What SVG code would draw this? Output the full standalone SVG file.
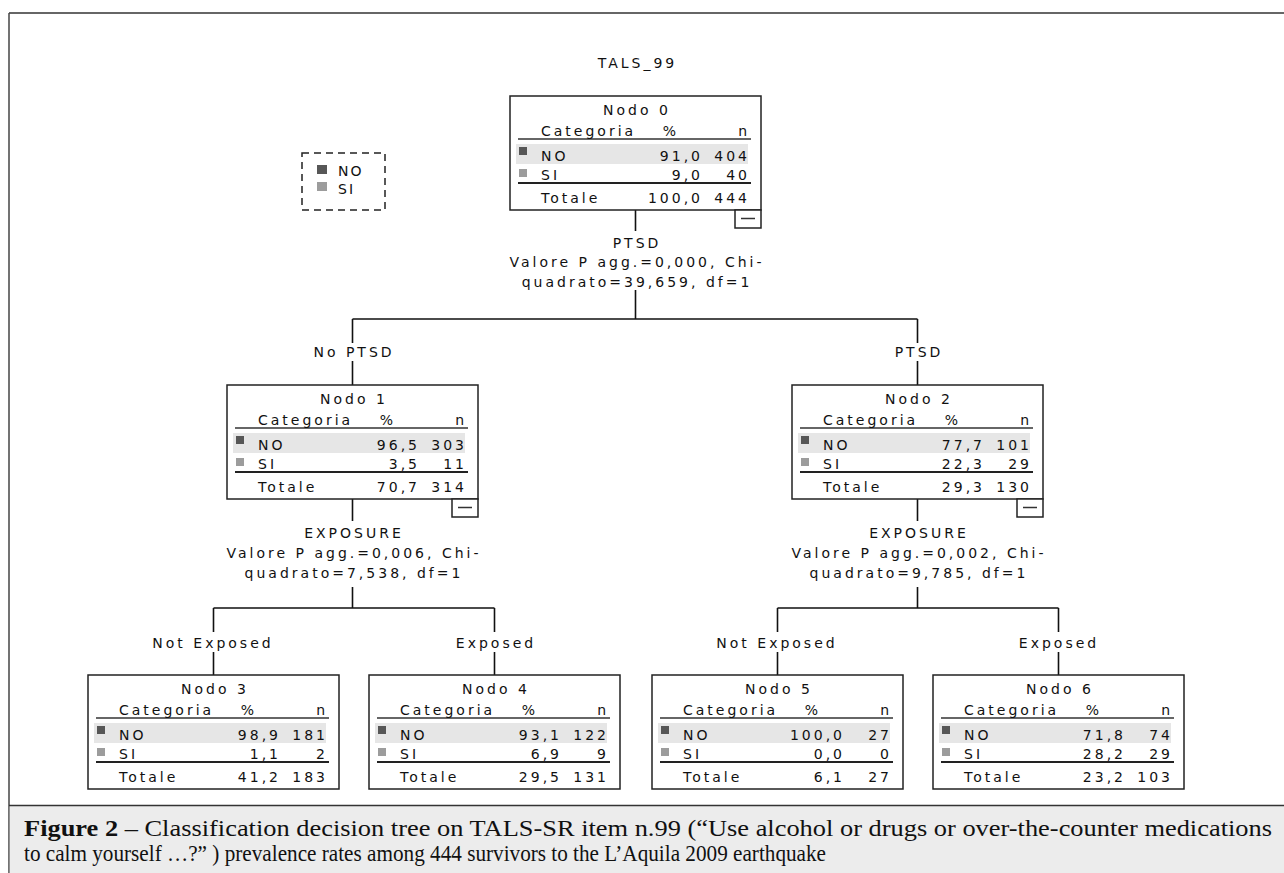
<svg xmlns="http://www.w3.org/2000/svg" width="1284" height="873" viewBox="0 0 1284 873">
<defs>
<style>
.t{font-family:"DejaVu Sans",sans-serif;font-size:14px;letter-spacing:3px;fill:#111}
.m{text-anchor:middle}
.e{text-anchor:end}
.box{fill:#fff;stroke:#222;stroke-width:1.5}
.hl{fill:#e6e6e6}
.sep{stroke:#333;stroke-width:1.5}
.sepb{stroke:#222;stroke-width:2}
.dk{fill:#575757}
.lt{fill:#9c9c9c}
.con{stroke:#111;stroke-width:1.6;fill:none}
.cap{font-family:"Liberation Serif","Times New Roman",serif;font-size:24px;fill:#111}
</style>
</defs>
<rect x="0" y="0" width="1284" height="873" fill="#fff"/>
<!-- frame -->
<line x1="9" y1="13" x2="1284" y2="13" stroke="#666" stroke-width="2"/>
<line x1="9" y1="13" x2="9" y2="873" stroke="#444" stroke-width="1.5"/>
<rect x="9.75" y="806" width="1275" height="67" fill="#ececec"/>
<line x1="9" y1="805.5" x2="1284" y2="805.5" stroke="#333" stroke-width="1.5"/>

<text class="t m" x="637.5" y="68">TALS_99</text>

<!-- legend -->
<g id="legend">
<rect x="302" y="153" width="83" height="57" fill="none" stroke="#222" stroke-width="1.5" stroke-dasharray="7,5"/>
<rect x="317" y="165" width="10" height="9" class="dk"/>
<rect x="317" y="182" width="10" height="9" class="lt"/>
<text class="t" x="338" y="176" style="letter-spacing:2px">NO</text>
<text class="t" x="338" y="194" style="letter-spacing:2px">SI</text>
</g>

<!-- connectors -->
<g id="connectors" class="con">
<path d="M635.5 210V231M635.5 290V319M352.5 319H917.5M352.5 319V343M352.5 361V385M917.5 319V343M917.5 361V385"/>
<path d="M352.5 499V521M352.5 587V608M213.5 608H494.5M213.5 608V632M213.5 652V675M494.5 608V632M494.5 652V675"/>
<path d="M917.5 499V521M917.5 587V608M777.5 608H1058.5M777.5 608V632M777.5 652V675M1058.5 608V632M1058.5 652V675"/>
</g>

<!-- split labels -->
<g id="labels">
<text class="t m" x="637" y="248">PTSD</text>
<text class="t m" x="637" y="267">Valore P agg.=0,000, Chi-</text>
<text class="t m" x="637" y="287">quadrato=39,659, df=1</text>
<text class="t m" x="354" y="357">No PTSD</text>
<text class="t m" x="919" y="357">PTSD</text>
<text class="t m" x="354" y="538">EXPOSURE</text>
<text class="t m" x="354" y="558">Valore P agg.=0,006, Chi-</text>
<text class="t m" x="354" y="578">quadrato=7,538, df=1</text>
<text class="t m" x="919" y="538">EXPOSURE</text>
<text class="t m" x="919" y="558">Valore P agg.=0,002, Chi-</text>
<text class="t m" x="919" y="578">quadrato=9,785, df=1</text>
<text class="t m" x="213" y="648">Not Exposed</text>
<text class="t m" x="496" y="648">Exposed</text>
<text class="t m" x="777" y="648">Not Exposed</text>
<text class="t m" x="1059" y="648">Exposed</text>
</g>

<!-- Node 0 -->
<g id="node0" transform="translate(510,96)">
<rect class="box" x="0" y="0" width="251" height="114"/>
<rect class="hl" x="6" y="48" width="232" height="20"/>
<line class="sep" x1="8" y1="43" x2="241" y2="43"/>
<line class="sepb" x1="8" y1="87" x2="241" y2="87"/>
<text class="t m" x="127" y="19">Nodo 0</text>
<text class="t" x="31" y="40">Categoria</text>
<text class="t m" x="161" y="40">%</text>
<text class="t e" x="240" y="40">n</text>
<rect class="dk" x="9" y="51" width="8" height="8"/>
<text class="t" x="31" y="65">NO</text>
<text class="t e" x="193" y="65">91,0</text>
<text class="t e" x="240" y="65">404</text>
<rect class="lt" x="9" y="73" width="8" height="8"/>
<text class="t" x="31" y="84">SI</text>
<text class="t e" x="193" y="84">9,0</text>
<text class="t e" x="240" y="84">40</text>
<text class="t" x="31" y="107">Totale</text>
<text class="t e" x="193" y="107">100,0</text>
<text class="t e" x="240" y="107">444</text>
<rect class="box" x="225" y="114" width="26" height="18"/>
<line class="sep" x1="231" y1="122.5" x2="245" y2="122.5"/>
</g>

<!-- Node 1 -->
<g id="node1" transform="translate(227,385)">
<rect class="box" x="0" y="0" width="251" height="114"/>
<rect class="hl" x="6" y="48" width="232" height="20"/>
<line class="sep" x1="8" y1="43" x2="241" y2="43"/>
<line class="sepb" x1="8" y1="87" x2="241" y2="87"/>
<text class="t m" x="127" y="19">Nodo 1</text>
<text class="t" x="31" y="40">Categoria</text>
<text class="t m" x="161" y="40">%</text>
<text class="t e" x="240" y="40">n</text>
<rect class="dk" x="9" y="51" width="8" height="8"/>
<text class="t" x="31" y="65">NO</text>
<text class="t e" x="193" y="65">96,5</text>
<text class="t e" x="240" y="65">303</text>
<rect class="lt" x="9" y="73" width="8" height="8"/>
<text class="t" x="31" y="84">SI</text>
<text class="t e" x="193" y="84">3,5</text>
<text class="t e" x="240" y="84">11</text>
<text class="t" x="31" y="107">Totale</text>
<text class="t e" x="193" y="107">70,7</text>
<text class="t e" x="240" y="107">314</text>
<rect class="box" x="225" y="114" width="26" height="18"/>
<line class="sep" x1="231" y1="122.5" x2="245" y2="122.5"/>
</g>

<!-- Node 2 -->
<g id="node2" transform="translate(792,385)">
<rect class="box" x="0" y="0" width="251" height="114"/>
<rect class="hl" x="6" y="48" width="232" height="20"/>
<line class="sep" x1="8" y1="43" x2="241" y2="43"/>
<line class="sepb" x1="8" y1="87" x2="241" y2="87"/>
<text class="t m" x="127" y="19">Nodo 2</text>
<text class="t" x="31" y="40">Categoria</text>
<text class="t m" x="161" y="40">%</text>
<text class="t e" x="240" y="40">n</text>
<rect class="dk" x="9" y="51" width="8" height="8"/>
<text class="t" x="31" y="65">NO</text>
<text class="t e" x="193" y="65">77,7</text>
<text class="t e" x="240" y="65">101</text>
<rect class="lt" x="9" y="73" width="8" height="8"/>
<text class="t" x="31" y="84">SI</text>
<text class="t e" x="193" y="84">22,3</text>
<text class="t e" x="240" y="84">29</text>
<text class="t" x="31" y="107">Totale</text>
<text class="t e" x="193" y="107">29,3</text>
<text class="t e" x="240" y="107">130</text>
<rect class="box" x="225" y="114" width="26" height="18"/>
<line class="sep" x1="231" y1="122.5" x2="245" y2="122.5"/>
</g>

<!-- Node 3 -->
<g id="node3" transform="translate(88,675)">
<rect class="box" x="0" y="0" width="251" height="114"/>
<rect class="hl" x="6" y="48" width="232" height="20"/>
<line class="sep" x1="8" y1="43" x2="241" y2="43"/>
<line class="sepb" x1="8" y1="87" x2="241" y2="87"/>
<text class="t m" x="127" y="19">Nodo 3</text>
<text class="t" x="31" y="40">Categoria</text>
<text class="t m" x="161" y="40">%</text>
<text class="t e" x="240" y="40">n</text>
<rect class="dk" x="9" y="51" width="8" height="8"/>
<text class="t" x="31" y="65">NO</text>
<text class="t e" x="193" y="65">98,9</text>
<text class="t e" x="240" y="65">181</text>
<rect class="lt" x="9" y="73" width="8" height="8"/>
<text class="t" x="31" y="84">SI</text>
<text class="t e" x="193" y="84">1,1</text>
<text class="t e" x="240" y="84">2</text>
<text class="t" x="31" y="107">Totale</text>
<text class="t e" x="193" y="107">41,2</text>
<text class="t e" x="240" y="107">183</text>
</g>

<!-- Node 4 -->
<g id="node4" transform="translate(369,675)">
<rect class="box" x="0" y="0" width="251" height="114"/>
<rect class="hl" x="6" y="48" width="232" height="20"/>
<line class="sep" x1="8" y1="43" x2="241" y2="43"/>
<line class="sepb" x1="8" y1="87" x2="241" y2="87"/>
<text class="t m" x="127" y="19">Nodo 4</text>
<text class="t" x="31" y="40">Categoria</text>
<text class="t m" x="161" y="40">%</text>
<text class="t e" x="240" y="40">n</text>
<rect class="dk" x="9" y="51" width="8" height="8"/>
<text class="t" x="31" y="65">NO</text>
<text class="t e" x="193" y="65">93,1</text>
<text class="t e" x="240" y="65">122</text>
<rect class="lt" x="9" y="73" width="8" height="8"/>
<text class="t" x="31" y="84">SI</text>
<text class="t e" x="193" y="84">6,9</text>
<text class="t e" x="240" y="84">9</text>
<text class="t" x="31" y="107">Totale</text>
<text class="t e" x="193" y="107">29,5</text>
<text class="t e" x="240" y="107">131</text>
</g>

<!-- Node 5 -->
<g id="node5" transform="translate(652,675)">
<rect class="box" x="0" y="0" width="251" height="114"/>
<rect class="hl" x="6" y="48" width="232" height="20"/>
<line class="sep" x1="8" y1="43" x2="241" y2="43"/>
<line class="sepb" x1="8" y1="87" x2="241" y2="87"/>
<text class="t m" x="127" y="19">Nodo 5</text>
<text class="t" x="31" y="40">Categoria</text>
<text class="t m" x="161" y="40">%</text>
<text class="t e" x="240" y="40">n</text>
<rect class="dk" x="9" y="51" width="8" height="8"/>
<text class="t" x="31" y="65">NO</text>
<text class="t e" x="193" y="65">100,0</text>
<text class="t e" x="240" y="65">27</text>
<rect class="lt" x="9" y="73" width="8" height="8"/>
<text class="t" x="31" y="84">SI</text>
<text class="t e" x="193" y="84">0,0</text>
<text class="t e" x="240" y="84">0</text>
<text class="t" x="31" y="107">Totale</text>
<text class="t e" x="193" y="107">6,1</text>
<text class="t e" x="240" y="107">27</text>
</g>

<!-- Node 6 -->
<g id="node6" transform="translate(933,675)">
<rect class="box" x="0" y="0" width="251" height="114"/>
<rect class="hl" x="6" y="48" width="232" height="20"/>
<line class="sep" x1="8" y1="43" x2="241" y2="43"/>
<line class="sepb" x1="8" y1="87" x2="241" y2="87"/>
<text class="t m" x="127" y="19">Nodo 6</text>
<text class="t" x="31" y="40">Categoria</text>
<text class="t m" x="161" y="40">%</text>
<text class="t e" x="240" y="40">n</text>
<rect class="dk" x="9" y="51" width="8" height="8"/>
<text class="t" x="31" y="65">NO</text>
<text class="t e" x="193" y="65">71,8</text>
<text class="t e" x="240" y="65">74</text>
<rect class="lt" x="9" y="73" width="8" height="8"/>
<text class="t" x="31" y="84">SI</text>
<text class="t e" x="193" y="84">28,2</text>
<text class="t e" x="240" y="84">29</text>
<text class="t" x="31" y="107">Totale</text>
<text class="t e" x="193" y="107">23,2</text>
<text class="t e" x="240" y="107">103</text>
</g>

<!-- caption -->
<g id="caption">
<text class="cap" x="24" y="836" textLength="1248" lengthAdjust="spacingAndGlyphs"><tspan font-weight="bold">Figure 2</tspan> – Classification decision tree on TALS-SR item n.99  (“Use alcohol or drugs or over-the-counter medications</text>
<text class="cap" x="24" y="861" textLength="802" lengthAdjust="spacingAndGlyphs">to calm yourself …?” ) prevalence rates among 444 survivors to the L’Aquila 2009 earthquake</text>
</g>
</svg>
